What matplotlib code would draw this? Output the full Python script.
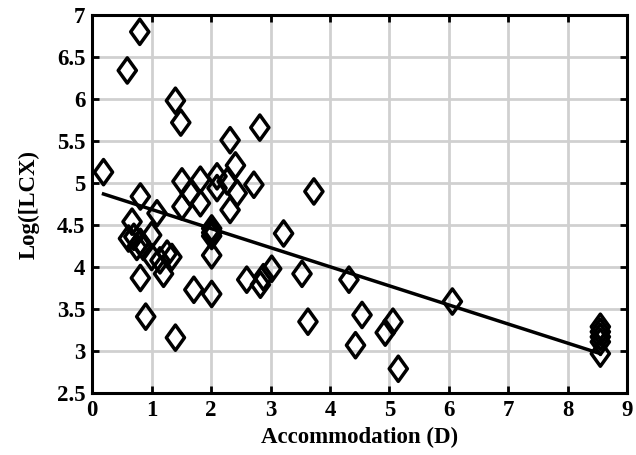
import numpy as np
import matplotlib.pyplot as plt
from matplotlib.path import Path

# accommodation (D) and log(LCX)
accommodation = [
    0.80, 0.59, 1.40, 1.49, 2.32, 2.82, 0.19, 3.73,
    2.41, 1.51, 1.82, 2.10, 2.10, 2.27, 2.72, 1.65, 1.82, 1.51, 2.44, 2.32,
    0.81, 1.09, 0.67, 0.70, 0.61, 0.75, 0.81, 0.86, 1.00, 1.00, 1.14, 1.26, 1.34,
    1.20, 0.81, 2.01, 2.01, 2.01, 2.01, 1.71, 2.01, 0.90, 1.40,
    2.60, 2.83, 2.88, 3.02, 3.22, 3.53, 3.63,
    4.32, 4.54, 4.43, 4.93, 5.06, 5.15, 6.06,
    8.55, 8.55, 8.55, 8.55, 8.55,
]
log_lcx = [
    6.80, 6.34, 5.98, 5.72, 5.51, 5.66, 5.13, 4.90,
    5.21, 5.02, 5.04, 5.08, 4.94, 5.02, 4.98, 4.88, 4.76, 4.72, 4.88, 4.68,
    4.84, 4.64, 4.54, 4.36, 4.34, 4.24, 4.30, 4.24, 4.38, 4.12, 4.08, 4.16, 4.12,
    3.92, 3.87, 4.46, 4.41, 4.37, 4.14, 3.73, 3.68, 3.41, 3.16,
    3.85, 3.79, 3.88, 3.98, 4.40, 3.92, 3.35,
    3.85, 3.43, 3.07, 3.22, 3.35, 2.79, 3.59,
    3.29, 3.23, 3.17, 3.11, 2.97,
]

# regression line end points
fit_x = [0.19, 8.55]
fit_y = [4.87, 2.97]

x_ticks = list(range(0, 10))
y_ticks = [2.5, 3, 3.5, 4, 4.5, 5, 5.5, 6, 6.5, 7]
y_labels = ['2.5', '3', '3.5', '4', '4.5', '5', '5.5', '6', '6.5', '7']

plt.rcParams['font.family'] = ['Liberation Serif', 'DejaVu Serif']
plt.rcParams['font.weight'] = 'bold'

# narrow diamond, a bit taller than wide
diamond = Path([(0, 1), (0.72, 0), (0, -1), (-0.72, 0), (0, 1)],
               [Path.MOVETO, Path.LINETO, Path.LINETO, Path.LINETO, Path.CLOSEPOLY])

fig = plt.figure(figsize=(6.36, 4.55), dpi=100)
ax = fig.add_axes([0.145, 0.136, 0.841, 0.831])

ax.plot(fit_x, fit_y, color='black', lw=2.5, zorder=3)
ax.scatter(accommodation, log_lcx, marker=diamond, s=330, facecolors='none',
           edgecolors='black', linewidths=2.5, zorder=4)

ax.set_xlim(0, 9)
ax.set_ylim(2.5, 7)
ax.set_xticks(x_ticks)
ax.set_yticks(y_ticks)
ax.set_yticklabels(y_labels)
ax.grid(True, color='#d0d0d0', lw=2)
ax.set_axisbelow(True)

ax.tick_params(direction='in', length=5, width=2, top=True, right=True,
               labelsize=16.5, pad=5)
for sp in ax.spines.values():
    sp.set_linewidth(2.2)

ax.set_xlabel('Accommodation (D)', fontsize=16.5, fontweight='bold', labelpad=4)
ax.set_ylabel('Log([LCX)', fontsize=16.5, fontweight='bold', labelpad=12)

fig.savefig('out.png', dpi=100)
